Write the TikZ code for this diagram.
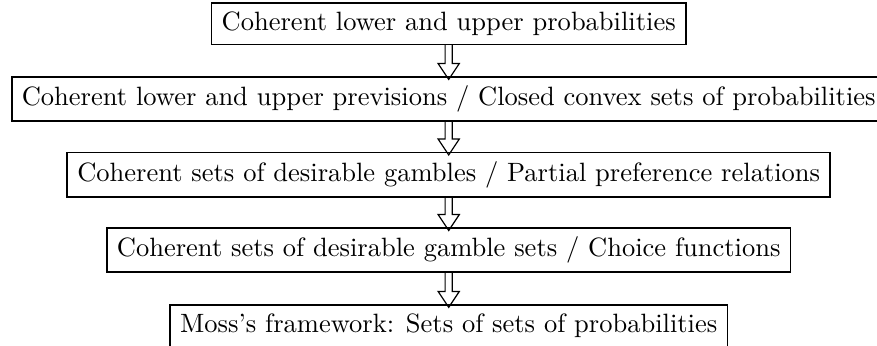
\documentclass[tikz,border=0pt]{standalone}
\usetikzlibrary{calc}
\begin{document}
\begin{tikzpicture}[
  stagebox/.style={draw, line width=0.6pt, inner ysep=3.33pt, inner xsep=3.8pt},
  hollowarrow/.style={line width=0.45pt, line join=miter,
    to path={($(\tikztostart)+(-1.35pt,0)$) -- ($(\tikztotarget)+(-1.35pt,6pt)$)
      -- ($(\tikztotarget)+(-4pt,6pt)$) -- (\tikztotarget)
      -- ($(\tikztotarget)+(4pt,6pt)$) -- ($(\tikztotarget)+(1.35pt,6pt)$)
      -- ($(\tikztostart)+(1.35pt,0)$)}}
]
\useasboundingbox (0,0) rectangle (330.9pt,130.2pt);
\node[stagebox] (b1) at (169.3pt,121.3pt) {Coherent lower and upper probabilities};
\node[stagebox] (b2) at (169.3pt,92.8pt) {Coherent lower and upper previsions / Closed convex sets of probabilities};
\node[stagebox] (b3) at (169.3pt,64.3pt) {Coherent sets of desirable gambles / Partial preference relations};
\node[stagebox] (b4) at (169.3pt,35.8pt) {Coherent sets of desirable gamble sets / Choice functions};
\node[stagebox] (b5) at (169.3pt,7.3pt) {Moss's framework: Sets of sets of probabilities};
\draw[hollowarrow] (b1.south) to ([yshift=-1.2pt]b2.north);
\draw[hollowarrow] (b2.south) to ([yshift=-1.2pt]b3.north);
\draw[hollowarrow] (b3.south) to ([yshift=-1.2pt]b4.north);
\draw[hollowarrow] (b4.south) to ([yshift=-1.2pt]b5.north);
\end{tikzpicture}
\end{document}
